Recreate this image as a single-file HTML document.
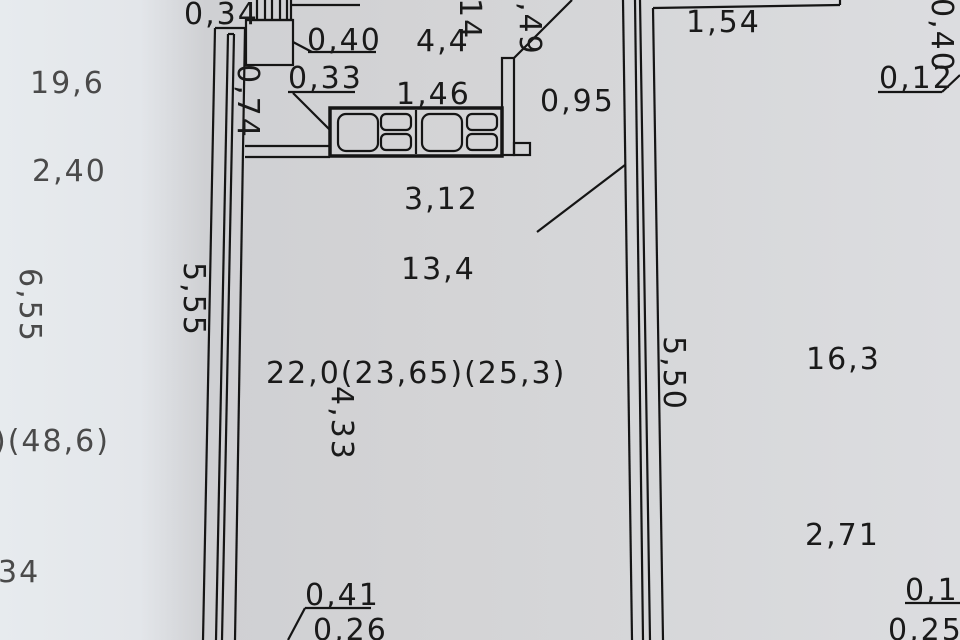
<!DOCTYPE html>
<html><head><meta charset="utf-8"><style>
html,body{margin:0;padding:0}
body{width:960px;height:640px;overflow:hidden;background:linear-gradient(90deg,#e7ebee 0,#e3e6ea 140px,#cfd0d3 205px,#d3d3d5 400px,#d6d7d9 640px,#dcdde0 960px)}
svg{position:absolute;left:0;top:0}
text{font-family:"DejaVu Sans","Liberation Sans",sans-serif;font-size:30px;letter-spacing:2px;fill:#1a1a1a}
.g{fill:#4a4a4a}
</style></head><body>
<svg width="960" height="640" viewBox="0 0 960 640">
<g stroke="#151515" stroke-width="2.2" fill="none">
<line x1="215" y1="28" x2="203" y2="640"/>
<line x1="228" y1="34" x2="216" y2="640"/>
<line x1="234" y1="34" x2="222" y2="640"/>
<line x1="245" y1="28" x2="235" y2="640"/>
<line x1="215" y1="28" x2="245" y2="28"/>
<line x1="228" y1="34" x2="234" y2="34"/>
<line x1="257" y1="0" x2="257" y2="20"/><line x1="265" y1="0" x2="265" y2="20"/>
<line x1="272" y1="0" x2="272" y2="20"/><line x1="280" y1="0" x2="280" y2="20"/>
<line x1="287" y1="0" x2="287" y2="20"/><line x1="291" y1="0" x2="291" y2="20"/>
<line x1="291" y1="5" x2="360" y2="5"/>
<line x1="245" y1="20" x2="293" y2="20"/>
<rect x="246" y="20" width="47" height="45"/>
<line x1="293" y1="42" x2="312" y2="52"/>
<line x1="245" y1="146" x2="330" y2="146"/>
<line x1="245" y1="157" x2="330" y2="157"/>
<line x1="293" y1="93" x2="330" y2="130"/>
<rect x="330" y="108" width="172" height="48" stroke-width="3.5"/>
<rect x="338" y="114" width="40" height="37" rx="8"/>
<rect x="381" y="114" width="30" height="16" rx="5"/><rect x="381" y="134" width="30" height="16" rx="5"/>
<rect x="422" y="114" width="40" height="37" rx="8"/>
<rect x="467" y="114" width="30" height="16" rx="5"/><rect x="467" y="134" width="30" height="16" rx="5"/>
<line x1="416" y1="110" x2="416" y2="154"/>
<rect x="502" y="58" width="12" height="97"/>
<rect x="514" y="143" width="16" height="12"/>
<line x1="514" y1="58" x2="572" y2="0"/>
<line x1="537" y1="232" x2="625" y2="165"/>
<line x1="623" y1="0" x2="632" y2="640"/>
<line x1="635" y1="0" x2="643" y2="640"/>
<line x1="640" y1="0" x2="650" y2="640"/>
<line x1="653" y1="8" x2="663" y2="640"/>
<line x1="653" y1="8" x2="840" y2="5"/>
<line x1="840" y1="0" x2="840" y2="5"/>
<line x1="308" y1="52" x2="376" y2="52"/>
<line x1="288" y1="92" x2="355" y2="92"/>
<line x1="878" y1="92" x2="942" y2="92"/>
<line x1="942" y1="92" x2="960" y2="75"/>
<line x1="305" y1="608" x2="371" y2="608"/>
<line x1="305" y1="608" x2="288" y2="640"/>
<line x1="905" y1="603" x2="960" y2="603"/>
</g>
<text x="184" y="24">0,34</text>
<text x="307" y="50">0,40</text>
<text x="416" y="51">4,4</text>
<text x="288" y="88">0,33</text>
<text x="396" y="104">1,46</text>
<text x="540" y="111">0,95</text>
<text x="404" y="209">3,12</text>
<text x="401" y="279">13,4</text>
<text x="266" y="383">22,0(23,65)(25,3)</text>
<text x="686" y="32">1,54</text>
<text x="879" y="88">0,12</text>
<text x="806" y="369">16,3</text>
<text x="805" y="545">2,71</text>
<text x="905" y="600">0,12</text>
<text x="888" y="640">0,25</text>
<text x="305" y="605">0,41</text>
<text x="313" y="640">0,26</text>
<text class="g" x="30" y="93">19,6</text>
<text class="g" x="32" y="181">2,40</text>
<text class="g" x="-6" y="451">)(48,6)</text>
<text class="g" x="-2" y="582">34</text>
<text transform="translate(20,268) rotate(90)" class="g">6,55</text>
<text transform="translate(184,262) rotate(90)">5,55</text>
<text transform="translate(332,386) rotate(90)">4,33</text>
<text transform="translate(664,336) rotate(90)">5,50</text>
<text transform="translate(238,64) rotate(90)">0,74</text>
<text transform="translate(932,-2) rotate(90)">0,40</text>
<text transform="translate(460,-2) rotate(90)">14</text>
<text transform="translate(520,2) rotate(90)">,49</text>
</svg>
</body></html>
